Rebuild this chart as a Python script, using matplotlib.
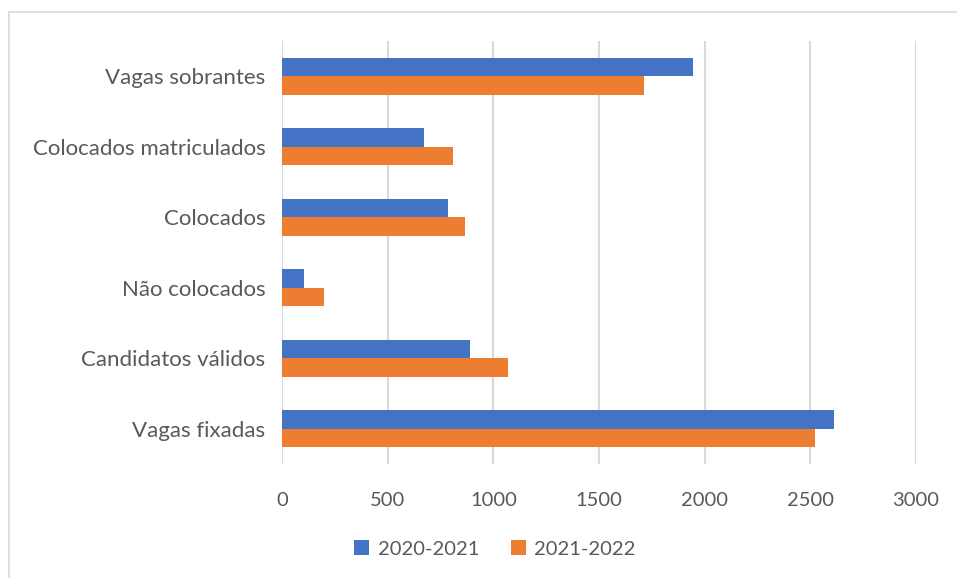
import matplotlib.pyplot as plt
from matplotlib.patches import Rectangle
import numpy as np

# Data (bottom to top, as drawn)
categories = ["Vagas fixadas", "Candidatos válidos", "Não colocados",
              "Colocados", "Colocados matriculados", "Vagas sobrantes"]
values_2020 = [2614, 888, 104, 784, 670, 1943]
values_2021 = [2523, 1069, 197, 867, 810, 1711]
series_names = ["2020-2021", "2021-2022"]
x_ticks = [0, 500, 1000, 1500, 2000, 2500, 3000]

blue = "#4472C4"
orange = "#ED7D31"
text_color = "#595959"
grid_color = "#D9D9D9"

plt.rcParams['font.family'] = ['Lato', 'DejaVu Sans']

fig = plt.figure(figsize=(9.57, 5.78), dpi=100)
ax = fig.add_axes([282 / 957, 1 - 464 / 578, (916 - 282) / 957, (464 - 41) / 578])

# Outer chart border (top and left visible)
fig.patches.append(Rectangle((9 / 957, -0.1), 1.2, 1 - 12 / 578 + 0.1,
                             transform=fig.transFigure, fill=False,
                             edgecolor=grid_color, linewidth=1.2))

y = np.arange(len(categories))
h = 0.26
ax.barh(y + h / 2, values_2020, height=h, color=blue, label=series_names[0], zorder=3)
ax.barh(y - h / 2, values_2021, height=h, color=orange, label=series_names[1], zorder=3)

ax.set_xlim(0, 3000)
ax.set_ylim(-0.5, len(categories) - 0.5)
ax.set_xticks(x_ticks)
ax.set_yticks(y)
ax.set_yticklabels(categories)
ax.xaxis.grid(True, color=grid_color, linewidth=1.5, zorder=0)
ax.set_axisbelow(True)

for s in ax.spines.values():
    s.set_visible(False)
ax.tick_params(axis='both', length=0, colors=text_color)
ax.tick_params(axis='x', pad=20, labelsize=14.5)
ax.tick_params(axis='y', pad=12, labelsize=16)

fig.legend(loc='center', bbox_to_anchor=(495 / 957, 1 - 549 / 578), ncol=2,
           frameon=False, fontsize=14.5, labelcolor=text_color,
           handlelength=0.75, handleheight=0.75, handletextpad=0.4,
           columnspacing=1.6)

fig.savefig("out.png", dpi=100)
